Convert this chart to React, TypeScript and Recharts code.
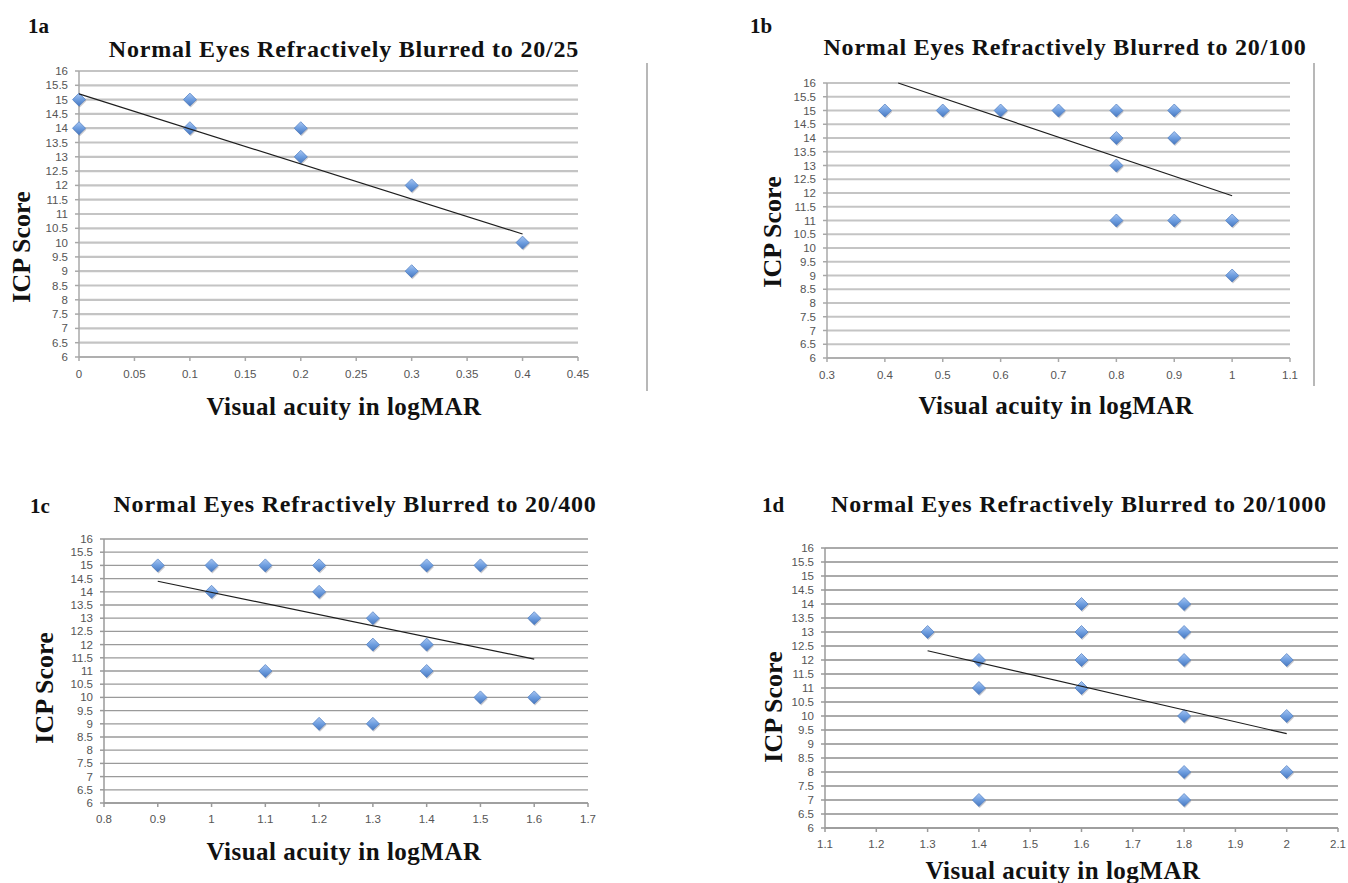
import React from 'react';
import { ScatterChart, Scatter, XAxis, YAxis, CartesianGrid } from 'recharts';

// ---------- data ----------
const yTicks = [6, 6.5, 7, 7.5, 8, 8.5, 9, 9.5, 10, 10.5, 11, 11.5, 12, 12.5, 13, 13.5, 14, 14.5, 15, 15.5, 16];

const xTicksA = [0, 0.05, 0.1, 0.15, 0.2, 0.25, 0.3, 0.35, 0.4, 0.45];
const pointsAX = [0, 0, 0.1, 0.1, 0.2, 0.2, 0.3, 0.3, 0.4];
const pointsAY = [15, 14, 15, 14, 14, 13, 12, 9, 10];
const trendAX = [0, 0.4];
const trendAY = [15.2, 10.3];

const xTicksB = [0.3, 0.4, 0.5, 0.6, 0.7, 0.8, 0.9, 1, 1.1];
const pointsBX = [0.4, 0.5, 0.6, 0.7, 0.8, 0.9, 0.8, 0.9, 0.8, 0.8, 0.9, 1, 1];
const pointsBY = [15, 15, 15, 15, 15, 15, 14, 14, 13, 11, 11, 11, 9];
const trendBX = [0.423, 1];
const trendBY = [16, 11.9];

const xTicksC = [0.8, 0.9, 1, 1.1, 1.2, 1.3, 1.4, 1.5, 1.6, 1.7];
const pointsCX = [0.9, 1, 1.1, 1.2, 1.4, 1.5, 1, 1.2, 1.3, 1.6, 1.3, 1.4, 1.1, 1.4, 1.5, 1.6, 1.2, 1.3];
const pointsCY = [15, 15, 15, 15, 15, 15, 14, 14, 13, 13, 12, 12, 11, 11, 10, 10, 9, 9];
const trendCX = [0.9, 1.6];
const trendCY = [14.4, 11.45];

const xTicksD = [1.1, 1.2, 1.3, 1.4, 1.5, 1.6, 1.7, 1.8, 1.9, 2, 2.1];
const pointsDX = [1.3, 1.4, 1.4, 1.4, 1.6, 1.6, 1.6, 1.6, 1.8, 1.8, 1.8, 1.8, 1.8, 1.8, 2, 2, 2];
const pointsDY = [13, 12, 11, 7, 14, 13, 12, 11, 14, 13, 12, 10, 8, 7, 12, 10, 8];
const trendDX = [1.3, 2];
const trendDY = [12.33, 9.37];

const titles = [
  'Normal Eyes Refractively Blurred to 20/25',
  'Normal Eyes Refractively Blurred to 20/100',
  'Normal Eyes Refractively Blurred to 20/400',
  'Normal Eyes Refractively Blurred to 20/1000',
];
const panelLabels = ['1a', '1b', '1c', '1d'];
const xAxisTitle = 'Visual acuity in logMAR';
const yAxisTitle = 'ICP Score';

const zip = (xs: number[], ys: number[]) => xs.map((x, i) => ({ x, y: ys[i] }));

const SERIF = '"Liberation Serif", "Times New Roman", serif';
const SANS = '"Liberation Sans", Arial, sans-serif';

type Layout = {
  left: number; top: number; width: number; height: number;
  mTop: number; mRight: number; yW: number; xH: number;
  grid: string; gridW: number; axis: string; tickOffset: number;
};

const layouts: Layout[] = [
  { left: 0, top: 60, width: 600, height: 340, mTop: 11, mRight: 22, yW: 79, xH: 43, grid: '#c4c4c4', gridW: 2.2, axis: '#a8a8a8', tickOffset: 9 },
  { left: 740, top: 60, width: 580, height: 340, mTop: 23, mRight: 30, yW: 87, xH: 42, grid: '#c4c4c4', gridW: 2.2, axis: '#a8a8a8', tickOffset: 9 },
  { left: 20, top: 520, width: 600, height: 330, mTop: 19, mRight: 32, yW: 84, xH: 47, grid: '#9a9a9a', gridW: 1.3, axis: '#9a9a9a', tickOffset: 8 },
  { left: 740, top: 530, width: 606, height: 330, mTop: 18, mRight: 8, yW: 85, xH: 32, grid: '#8e8e8e', gridW: 1.3, axis: '#9a9a9a', tickOffset: 8 },
];

const makeDiamond = (gid: string) => (props: any) => {
  const { cx, cy } = props;
  if (cx == null || cy == null) return <g />;
  const r = 6.5;
  const d = (ox: number, oy: number) =>
    `M${cx + ox},${cy + oy - r} L${cx + ox + r},${cy + oy} L${cx + ox},${cy + oy + r} L${cx + ox - r},${cy + oy} Z`;
  return (
    <g>
      <path d={d(0.8, 1.5)} fill="rgba(60,60,80,0.28)" />
      <path d={d(0, 0)} fill={`url(#${gid})`} stroke="#4b7bc0" strokeWidth={0.7} />
    </g>
  );
};

const Empty = () => <g />;

function Panel(props: {
  id: string; lay: Layout; xs: number[]; ys: number[]; tx: number[]; ty: number[];
  xTicks: number[];
}) {
  const { id, lay, xs, ys, tx, ty, xTicks } = props;
  const pts = zip(xs, ys);
  const trend = zip(tx, ty);
  const gid = `grad-${id}`;
  return (
    <div style={{ position: 'absolute', left: lay.left, top: lay.top }}>
      <ScatterChart
        width={lay.width}
        height={lay.height}
        margin={{ top: lay.mTop, right: lay.mRight, bottom: 0, left: 0 }}
      >
        <defs>
          <linearGradient id={gid} x1="0" y1="0" x2="0" y2="1">
            <stop offset="0%" stopColor="#a9c6f2" />
            <stop offset="50%" stopColor="#6e9ee0" />
            <stop offset="100%" stopColor="#4777bf" />
          </linearGradient>
        </defs>
        <CartesianGrid vertical={false} stroke={lay.grid} strokeWidth={lay.gridW} />
        <XAxis
          type="number"
          dataKey="x"
          domain={[xTicks[0], xTicks[xTicks.length - 1]]}
          ticks={xTicks}
          interval={0}
          height={lay.xH}
          stroke={lay.axis}
          strokeWidth={1.5}
          tickSize={4}
          tickMargin={lay.tickOffset}
          tick={{ fill: '#555555', fontSize: 11.5, fontFamily: SANS }}
        />
        <YAxis
          type="number"
          dataKey="y"
          domain={[6, 16]}
          ticks={yTicks}
          interval={0}
          width={lay.yW}
          stroke={lay.axis}
          strokeWidth={1.5}
          tickSize={4}
          tickMargin={7}
          tick={{ fill: '#555555', fontSize: 11.5, fontFamily: SANS }}
        />
        <Scatter data={pts} shape={makeDiamond(gid)} isAnimationActive={false} />
        <Scatter
          data={trend}
          line={{ stroke: '#1e1e1e', strokeWidth: 1.2 }}
          shape={Empty}
          isAnimationActive={false}
        />
      </ScatterChart>
    </div>
  );
}

const titlePos = [
  { x: 344, y: 57 },
  { x: 1065, y: 55 },
  { x: 355, y: 512 },
  { x: 1079, y: 512 },
];
const labelPos = [
  { x: 28, y: 33 },
  { x: 750, y: 33 },
  { x: 30, y: 513 },
  { x: 762, y: 512 },
];
const xTitlePos = [
  { x: 344, y: 415 },
  { x: 1056, y: 414 },
  { x: 344, y: 860 },
  { x: 1063, y: 879 },
];
const yTitlePos = [
  { x: 30, y: 247 },
  { x: 781, y: 232 },
  { x: 53, y: 688 },
  { x: 782, y: 707 },
];

export default function App() {
  return (
    <div style={{ position: 'absolute', left: 0, top: 0, width: 1348, height: 883, background: '#ffffff', overflow: 'hidden' }}>
      <Panel id="a" lay={layouts[0]} xs={pointsAX} ys={pointsAY} tx={trendAX} ty={trendAY} xTicks={xTicksA} />
      <Panel id="b" lay={layouts[1]} xs={pointsBX} ys={pointsBY} tx={trendBX} ty={trendBY} xTicks={xTicksB} />
      <Panel id="c" lay={layouts[2]} xs={pointsCX} ys={pointsCY} tx={trendCX} ty={trendCY} xTicks={xTicksC} />
      <Panel id="d" lay={layouts[3]} xs={pointsDX} ys={pointsDY} tx={trendDX} ty={trendDY} xTicks={xTicksD} />
      <svg width={1348} height={883} style={{ position: 'absolute', left: 0, top: 0, pointerEvents: 'none' }}>
        <line x1={647} y1={63} x2={647} y2={391} stroke="#b8b8b8" strokeWidth={2} />
        <line x1={1314} y1={63} x2={1314} y2={386} stroke="#b8b8b8" strokeWidth={2} />
        {titles.map((t, i) => (
          <text key={'t' + i} x={titlePos[i].x} y={titlePos[i].y} textAnchor="middle"
            fontFamily={SERIF} fontWeight="bold" fontSize={24} letterSpacing={0.8} fill="#111">{t}</text>
        ))}
        {panelLabels.map((t, i) => (
          <text key={'l' + i} x={labelPos[i].x} y={labelPos[i].y}
            fontFamily={SERIF} fontWeight="bold" fontSize={21} fill="#111">{t}</text>
        ))}
        {xTitlePos.map((p, i) => (
          <text key={'x' + i} x={p.x} y={p.y} textAnchor="middle"
            fontFamily={SERIF} fontWeight="bold" fontSize={25} letterSpacing={0.5} fill="#111">{xAxisTitle}</text>
        ))}
        {yTitlePos.map((p, i) => (
          <text key={'y' + i} x={p.x} y={p.y} textAnchor="middle" transform={`rotate(-90 ${p.x} ${p.y})`}
            fontFamily={SERIF} fontWeight="bold" fontSize={26} fill="#111">{yAxisTitle}</text>
        ))}
      </svg>
    </div>
  );
}
